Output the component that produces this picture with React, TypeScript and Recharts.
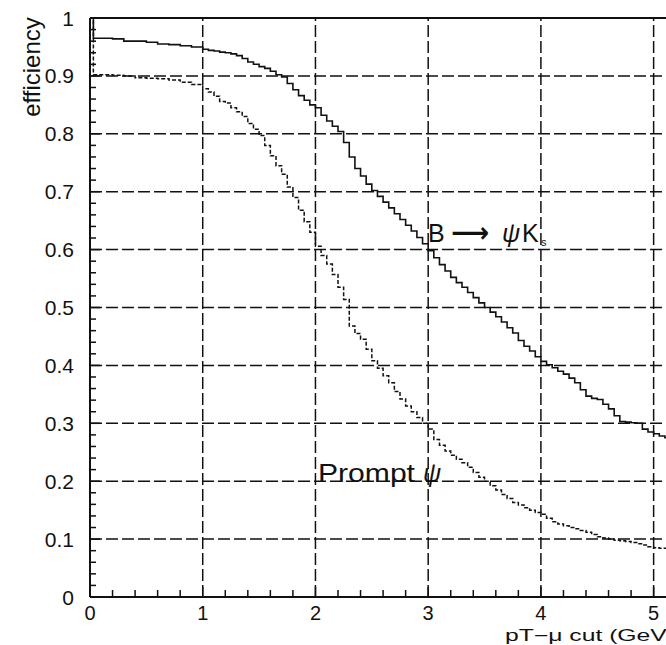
import { LineChart, Line, XAxis, YAxis, ReferenceLine } from 'recharts';

// pT-mu cut (GeV)
const CUT = [
  0, 0.03, 0.1, 0.2, 0.3, 0.4, 0.5, 0.6, 0.7, 0.8, 0.9,
  1.0, 1.05, 1.1, 1.15, 1.2, 1.25, 1.3, 1.35, 1.4, 1.45,
  1.5, 1.55, 1.6, 1.65, 1.7, 1.75, 1.8, 1.85, 1.9, 1.95,
  2.0, 2.05, 2.1, 2.15, 2.2, 2.25, 2.3, 2.35, 2.4, 2.45,
  2.5, 2.55, 2.6, 2.65, 2.7, 2.75, 2.8, 2.85, 2.9, 2.95,
  3.0, 3.05, 3.1, 3.15, 3.2, 3.25, 3.3, 3.35, 3.4, 3.45,
  3.5, 3.55, 3.6, 3.65, 3.7, 3.75, 3.8, 3.85, 3.9, 3.95,
  4.0, 4.05, 4.1, 4.15, 4.2, 4.25, 4.3, 4.35, 4.4, 4.45,
  4.5, 4.55, 4.6, 4.65, 4.7, 4.75, 4.8, 4.85, 4.9, 4.95,
  5.0, 5.05, 5.1, 5.15, 5.2,
];

// B -> psi Ks efficiency
const B_EFF = [
  1.0, 0.965, 0.965, 0.964, 0.96, 0.96, 0.958, 0.955, 0.954, 0.952, 0.95,
  0.946, 0.944, 0.943, 0.941, 0.94, 0.938, 0.935, 0.93, 0.924, 0.92,
  0.916, 0.913, 0.908, 0.902, 0.898, 0.887, 0.876, 0.866, 0.858, 0.85,
  0.845, 0.832, 0.822, 0.813, 0.804, 0.785, 0.76, 0.74, 0.727, 0.713,
  0.702, 0.692, 0.682, 0.672, 0.662, 0.652, 0.642, 0.632, 0.621, 0.61,
  0.598, 0.586, 0.574, 0.563, 0.552, 0.543, 0.535, 0.526, 0.517, 0.508,
  0.5, 0.492, 0.484, 0.475, 0.465, 0.456, 0.443, 0.433, 0.425, 0.415,
  0.407, 0.401, 0.396, 0.39, 0.385, 0.378, 0.37, 0.358, 0.347, 0.343,
  0.341, 0.333, 0.325, 0.313, 0.303, 0.302, 0.301, 0.3, 0.29, 0.285,
  0.282, 0.278, 0.275, 0.271, 0.268,
];

// prompt psi efficiency
const PROMPT_EFF = [
  1.0, 0.902, 0.902, 0.901, 0.9, 0.897, 0.896, 0.895, 0.893, 0.889, 0.885,
  0.878, 0.872, 0.865, 0.856, 0.853, 0.845, 0.838, 0.83, 0.818, 0.808,
  0.797, 0.78, 0.762, 0.745, 0.73, 0.708, 0.69, 0.668, 0.648, 0.63,
  0.606, 0.59, 0.575, 0.557, 0.535, 0.514, 0.468, 0.455, 0.445, 0.428,
  0.408, 0.395, 0.382, 0.37, 0.355, 0.342, 0.33, 0.32, 0.31, 0.3,
  0.29, 0.272, 0.262, 0.252, 0.245, 0.238, 0.232, 0.224, 0.215, 0.207,
  0.2, 0.192, 0.185, 0.177, 0.17, 0.163, 0.159, 0.154, 0.15, 0.146,
  0.143, 0.136, 0.13, 0.126, 0.123, 0.12, 0.118, 0.115, 0.112, 0.108,
  0.104, 0.102, 0.1, 0.098, 0.097, 0.096, 0.094, 0.092, 0.09, 0.087,
  0.085, 0.084, 0.084, 0.083, 0.083,
];

const X_MAJOR = [0, 1, 2, 3, 4, 5];
const Y_MAJOR = [0, 0.1, 0.2, 0.3, 0.4, 0.5, 0.6, 0.7, 0.8, 0.9, 1];

const FONT = '"Liberation Sans", Arial, Helvetica, sans-serif';
const INK = '#111';

const data = CUT.map((x, i) => ({ x, b: B_EFF[i], prompt: PROMPT_EFF[i] }));

// 5 subdivisions between major ticks
const xTicks: number[] = [];
for (let i = 0; i <= 27; i++) xTicks.push(Number((i * 0.2).toFixed(2)));
const yTicks: number[] = [];
for (let i = 0; i <= 50; i++) yTicks.push(Number((i * 0.02).toFixed(2)));

const isMajor = (v: number, list: number[]) => list.some((m) => Math.abs(m - v) < 1e-6);

function XTick(props: any) {
  const { x, y, payload } = props;
  const major = isMajor(payload.value, X_MAJOR);
  return (
    <g>
      <line x1={x} y1={y} x2={x} y2={y - (major ? 10 : 7)} stroke={INK} strokeWidth={1.5} />
      {major && (
        <text x={x} y={y + 23} textAnchor="middle" fontSize={20} fontFamily={FONT} fill={INK}>
          {String(payload.value)}
        </text>
      )}
    </g>
  );
}

function YTick(props: any) {
  const { x, y, payload } = props;
  const major = isMajor(payload.value, Y_MAJOR);
  return (
    <g>
      <line x1={x} y1={y} x2={x + (major ? 10 : 6)} y2={y} stroke={INK} strokeWidth={1.5} />
      {major && (
        <text x={x - 16} y={y} dy="0.36em" textAnchor="end" fontSize={21} fontFamily={FONT} fill={INK}>
          {String(payload.value)}
        </text>
      )}
    </g>
  );
}

export default function App() {
  return (
    <div style={{ position: 'absolute', left: 0, top: 0, width: 666, height: 645, overflow: 'hidden', background: '#fff' }}>
      <LineChart width={720} height={645} data={data} margin={{ top: 18, right: 10, bottom: 8, left: 0 }}>
        <XAxis
          dataKey="x"
          type="number"
          domain={[0, 5.5]}
          ticks={xTicks}
          interval={0}
          tickLine={false}
          tickSize={0}
          tickMargin={0}
          height={40}
          axisLine={{ stroke: INK, strokeWidth: 2 }}
          tick={<XTick />}
        />
        <YAxis
          type="number"
          domain={[0, 1]}
          ticks={yTicks}
          interval={0}
          tickLine={false}
          tickSize={0}
          tickMargin={0}
          width={90}
          axisLine={{ stroke: INK, strokeWidth: 2 }}
          tick={<YTick />}
        />
        {X_MAJOR.filter((v) => v > 0).map((v) => (
          <ReferenceLine key={'gx' + v} x={v} stroke={INK} strokeWidth={1.5} strokeDasharray="12 4" />
        ))}
        {Y_MAJOR.filter((v) => v > 0 && v < 1).map((v) => (
          <ReferenceLine key={'gy' + v} y={v} stroke={INK} strokeWidth={1.5} strokeDasharray="12 4" />
        ))}
        <ReferenceLine y={1} stroke={INK} strokeWidth={2} />
        <Line type="stepAfter" dataKey="b" stroke={INK} strokeWidth={1.6} dot={false} isAnimationActive={false} />
        <Line
          type="stepAfter"
          dataKey="prompt"
          stroke={INK}
          strokeWidth={1.5}
          strokeDasharray="4 2"
          dot={false}
          isAnimationActive={false}
        />
      </LineChart>
      <svg width={666} height={645} style={{ position: 'absolute', left: 0, top: 0, pointerEvents: 'none' }}>
        <text
          transform="translate(40,67) rotate(-90)"
          textAnchor="middle"
          fontSize={24}
          fontFamily={FONT}
          fill={INK}
        >
          efficiency
        </text>
        <text x={505} y={641} fontSize={16} fontFamily={FONT} fill={INK} textLength={170} lengthAdjust="spacingAndGlyphs">
          pT−μ cut (GeV)
        </text>
        <text x={428} y={242} fontSize={25} fontFamily={FONT} fill={INK}>B</text>
        <text
          x={451}
          y={242}
          fontSize={28}
          fontFamily='"DejaVu Sans", sans-serif'
          fontWeight="bold"
          fill={INK}
          textLength={38}
          lengthAdjust="spacingAndGlyphs"
        >
          ⟶
        </text>
        <text x={502} y={242} fontSize={25} fontFamily={FONT} fill={INK} fontStyle="italic">ψ</text>
        <text x={522} y={242} fontSize={25} fontFamily={FONT} fill={INK}>K</text>
        <text x={541} y={246} fontSize={11} fontFamily={FONT} fill={INK}>s</text>
        <text x={318} y={482} fontSize={25} fontFamily={FONT} fill={INK} textLength={97} lengthAdjust="spacingAndGlyphs">Prompt</text>
        <text x={423} y={482} fontSize={25} fontFamily={FONT} fill={INK} fontStyle="italic">ψ</text>
      </svg>
    </div>
  );
}
